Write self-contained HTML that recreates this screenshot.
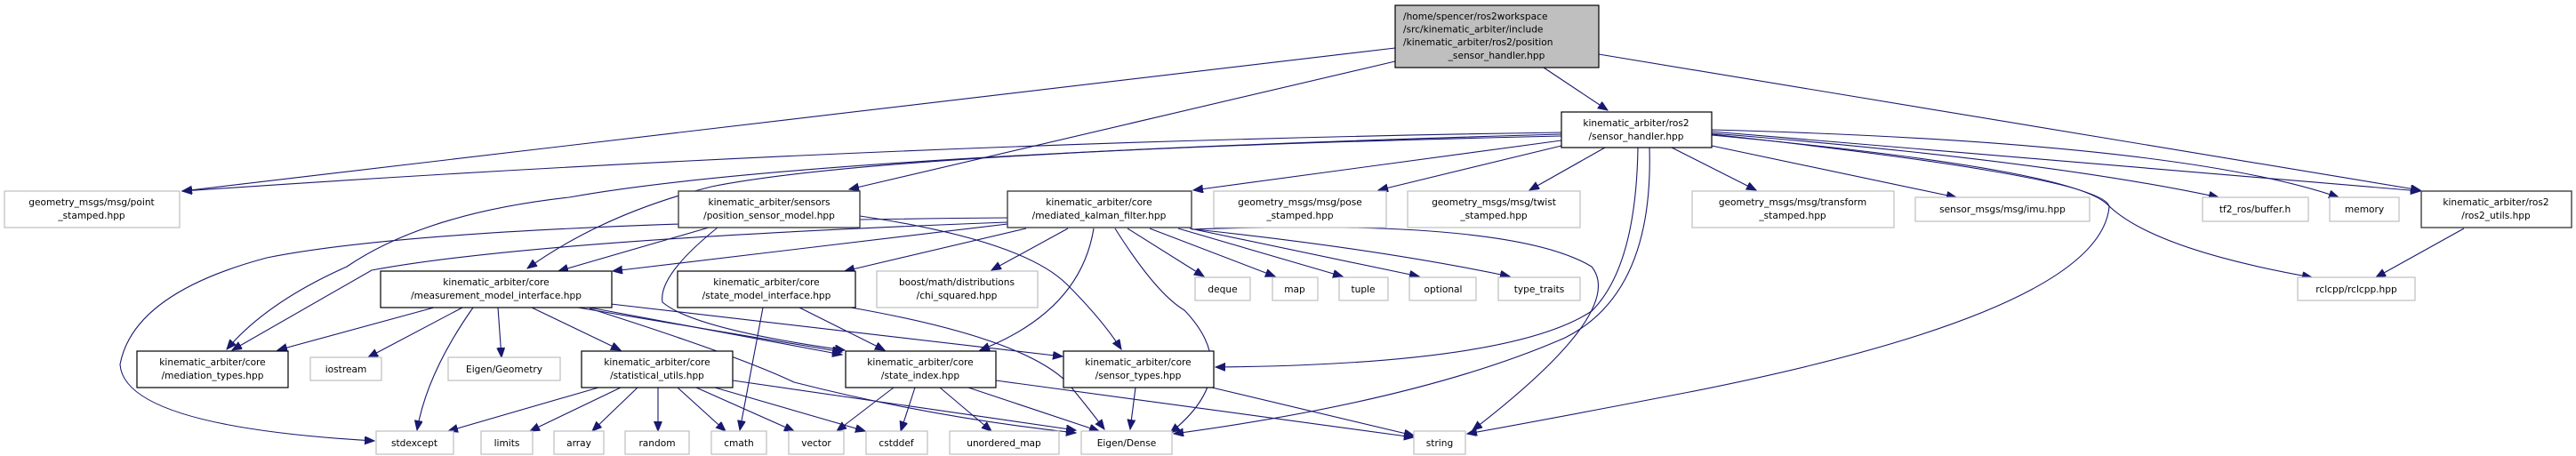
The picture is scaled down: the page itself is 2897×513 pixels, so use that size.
<!DOCTYPE html>
<html><head><meta charset="utf-8"><style>
html,body{margin:0;padding:0;background:#fff;width:2897px;height:513px;overflow:hidden}
svg text{font-family:"DejaVu Sans","Liberation Sans",sans-serif;font-size:10.6px;fill:#000;text-anchor:middle}
.e{fill:none;stroke:#191970;stroke-width:1.1}
.g{fill:#fff;stroke:#bfbfbf;stroke-width:1.2}
.b{fill:#fff;stroke:#000;stroke-width:1.2}
.d{fill:#fff;stroke:#404040;stroke-width:1.4}
</style></head><body>
<svg width="2897" height="513" viewBox="0 0 2897 513" xmlns="http://www.w3.org/2000/svg">
<defs><marker id="a" markerUnits="userSpaceOnUse" markerWidth="12" markerHeight="10" refX="11" refY="4.5" orient="auto"><polygon points="0,0 11,4.5 0,9" fill="#191970" stroke="#191970"/></marker></defs>
<g marker-end="url(#a)">
<!-- root -->
<path class="e" d="M1569,54 L205,215"/>
<path class="e" d="M1569,69 L955,213"/>
<path class="e" d="M1736,76 L1808,124"/>
<path class="e" d="M1798,61 L2722,214"/>
<!-- sensor_handler -->
<path class="e" d="M1756,149 Q1000,160 205,215"/>
<path class="e" d="M1756,151 Q900,175 640,222 Q478,240 390,300 Q300,340 255,393"/>
<path class="e" d="M1756,153 Q1000,170 800,210 Q680,240 593,302"/>
<path class="e" d="M1756,158 L1342,214"/>
<path class="e" d="M1756,164 L1550,214"/>
<path class="e" d="M1805,166 L1720,214"/>
<path class="e" d="M1880,166 L1975,214"/>
<path class="e" d="M1925,164 L2200,222"/>
<path class="e" d="M1925,150 Q2300,180 2495,222"/>
<path class="e" d="M1925,146 Q2450,160 2630,222"/>
<path class="e" d="M1925,148 L2722,215"/>
<path class="e" d="M1925,152 Q2330,190 2370,230 Q2420,280 2600,312"/>
<path class="e" d="M1925,151 Q2372,200 2372,233 Q2360,350 1900,441 Q1750,470 1650,488"/>
<path class="e" d="M1842,166 Q1840,300 1790,350 Q1700,410 1367,413"/>
<path class="e" d="M1855,166 Q1860,330 1760,380 Q1600,450 1320,488"/>
<!-- position_sensor_model -->
<path class="e" d="M797,256 L628,305"/>
<path class="e" d="M807,256 Q740,310 745,340 Q780,370 950,394"/>
<path class="e" d="M967,243 Q1150,270 1200,320 Q1240,360 1261,393"/>
<!-- mediated_kalman_filter -->
<path class="e" d="M1133,245 Q500,250 300,290 Q150,330 135,410 Q140,480 421,496"/>
<path class="e" d="M1133,250 Q600,270 418,304 Q320,360 261,394"/>
<path class="e" d="M1133,252 L689,305"/>
<path class="e" d="M1154,257 L950,305"/>
<path class="e" d="M1201,257 L1115,304"/>
<path class="e" d="M1230,257 Q1215,350 1102,394"/>
<path class="e" d="M1254,257 Q1300,330 1332,349 Q1400,420 1316,487"/>
<path class="e" d="M1268,257 L1354,311"/>
<path class="e" d="M1293,257 L1434,311"/>
<path class="e" d="M1325,257 L1510,311"/>
<path class="e" d="M1338,257 L1596,311"/>
<path class="e" d="M1344,258 Q1550,280 1698,311"/>
<path class="e" d="M1340,258 Q1700,245 1790,300 Q1830,350 1656,484"/>
<!-- measurement_model_interface -->
<path class="e" d="M488,346 L312,394"/>
<path class="e" d="M520,346 L414,402"/>
<path class="e" d="M532,346 Q480,420 469,484"/>
<path class="e" d="M560,346 L564,402"/>
<path class="e" d="M598,346 L698,394"/>
<path class="e" d="M650,346 L947,396"/>
<path class="e" d="M663,346 L947,399"/>
<path class="e" d="M687,342 L1195,401"/>
<path class="e" d="M663,347 Q830,400 893,430 Q1050,470 1210,487"/>
<!-- state_model_interface -->
<path class="e" d="M858,346 L832,484"/>
<path class="e" d="M899,346 L995,394"/>
<path class="e" d="M957,346 Q1150,380 1200,430 Q1225,460 1242,483"/>
<!-- statistical_utils -->
<path class="e" d="M673,436 L504,485"/>
<path class="e" d="M698,436 L596,485"/>
<path class="e" d="M717,436 L666,485"/>
<path class="e" d="M740,436 L740,485"/>
<path class="e" d="M762,436 L816,485"/>
<path class="e" d="M783,436 L893,485"/>
<path class="e" d="M804,436 L973,485"/>
<path class="e" d="M824,428 L1210,484"/>
<!-- state_index -->
<path class="e" d="M1005,436 L941,485"/>
<path class="e" d="M1029,436 L1013,485"/>
<path class="e" d="M1057,436 L1115,485"/>
<path class="e" d="M1089,436 L1236,485"/>
<path class="e" d="M1120,428 L1590,492"/>
<!-- sensor_types -->
<path class="e" d="M1277,436 L1271,483"/>
<path class="e" d="M1363,436 L1590,490"/>
<!-- ros2_utils -->
<path class="e" d="M2771,257 L2672,312"/>
</g>
<!-- nodes -->
<rect x="1569" y="6" width="229" height="70" fill="#bfbfbf" stroke="#000" stroke-width="1.2"/>
<text x="1578" y="22" style="text-anchor:start">/home/spencer/ros2workspace</text>
<text x="1578" y="36.5" style="text-anchor:start">/src/kinematic_arbiter/include</text>
<text x="1578" y="51" style="text-anchor:start">/kinematic_arbiter/ros2/position</text>
<text x="1683" y="66">_sensor_handler.hpp</text>

<rect class="b" x="1756" y="126" width="169" height="40"/>
<text x="1840" y="142">kinematic_arbiter/ros2</text><text x="1840" y="157">/sensor_handler.hpp</text>

<rect class="g" x="5" y="215" width="197" height="41"/>
<text x="103" y="231">geometry_msgs/msg/point</text><text x="103" y="246">_stamped.hpp</text>
<rect class="d" x="763" y="215" width="204" height="41"/>
<text x="865" y="231">kinematic_arbiter/sensors</text><text x="865" y="246">/position_sensor_model.hpp</text>
<rect class="d" x="1133" y="215" width="207" height="41"/>
<text x="1236" y="231">kinematic_arbiter/core</text><text x="1236" y="246">/mediated_kalman_filter.hpp</text>
<rect class="g" x="1365" y="215" width="194" height="41"/>
<text x="1462" y="231">geometry_msgs/msg/pose</text><text x="1462" y="246">_stamped.hpp</text>
<rect class="g" x="1583" y="215" width="194" height="41"/>
<text x="1680" y="231">geometry_msgs/msg/twist</text><text x="1680" y="246">_stamped.hpp</text>
<rect class="g" x="1903" y="215" width="227" height="41"/>
<text x="2016" y="231">geometry_msgs/msg/transform</text><text x="2016" y="246">_stamped.hpp</text>
<rect class="g" x="2154" y="222" width="196" height="27"/><text x="2252" y="239">sensor_msgs/msg/imu.hpp</text>
<rect class="g" x="2477" y="222" width="119" height="27"/><text x="2536" y="239">tf2_ros/buffer.h</text>
<rect class="g" x="2620" y="222" width="78" height="27"/><text x="2659" y="239">memory</text>
<rect class="d" x="2723" y="215" width="169" height="41"/>
<text x="2807" y="231">kinematic_arbiter/ros2</text><text x="2807" y="246">/ros2_utils.hpp</text>

<rect class="b" x="428" y="305" width="260" height="41"/>
<text x="558" y="321">kinematic_arbiter/core</text><text x="558" y="336">/measurement_model_interface.hpp</text>
<rect class="b" x="762" y="305" width="200" height="41"/>
<text x="862" y="321">kinematic_arbiter/core</text><text x="862" y="336">/state_model_interface.hpp</text>
<rect class="g" x="986" y="305" width="181" height="41"/>
<text x="1076" y="321">boost/math/distributions</text><text x="1076" y="336">/chi_squared.hpp</text>
<rect class="g" x="1344" y="312" width="62" height="26"/><text x="1375" y="329">deque</text>
<rect class="g" x="1431" y="312" width="51" height="26"/><text x="1456" y="329">map</text>
<rect class="g" x="1506" y="312" width="55" height="26"/><text x="1533" y="329">tuple</text>
<rect class="g" x="1585" y="312" width="75" height="26"/><text x="1623" y="329">optional</text>
<rect class="g" x="1685" y="312" width="92" height="26"/><text x="1731" y="329">type_traits</text>
<rect class="g" x="2584" y="312" width="132" height="26"/><text x="2650" y="329">rclcpp/rclcpp.hpp</text>

<rect class="b" x="154" y="395" width="170" height="41"/>
<text x="239" y="411">kinematic_arbiter/core</text><text x="239" y="426">/mediation_types.hpp</text>
<rect class="g" x="349" y="402" width="80" height="26"/><text x="389" y="419">iostream</text>
<rect class="g" x="504" y="402" width="126" height="26"/><text x="567" y="419">Eigen/Geometry</text>
<rect class="b" x="654" y="395" width="170" height="41"/>
<text x="739" y="411">kinematic_arbiter/core</text><text x="739" y="426">/statistical_utils.hpp</text>
<rect class="b" x="951" y="395" width="169" height="41"/>
<text x="1035" y="411">kinematic_arbiter/core</text><text x="1035" y="426">/state_index.hpp</text>
<rect class="b" x="1196" y="395" width="169" height="41"/>
<text x="1280" y="411">kinematic_arbiter/core</text><text x="1280" y="426">/sensor_types.hpp</text>

<rect class="g" x="423" y="485" width="87" height="26"/><text x="466" y="502">stdexcept</text>
<rect class="g" x="541" y="485" width="58" height="26"/><text x="570" y="502">limits</text>
<rect class="g" x="623" y="485" width="56" height="26"/><text x="651" y="502">array</text>
<rect class="g" x="703" y="485" width="72" height="26"/><text x="739" y="502">random</text>
<rect class="g" x="800" y="485" width="62" height="26"/><text x="831" y="502">cmath</text>
<rect class="g" x="887" y="485" width="62" height="26"/><text x="918" y="502">vector</text>
<rect class="g" x="974" y="485" width="69" height="26"/><text x="1008" y="502">cstddef</text>
<rect class="g" x="1068" y="485" width="123" height="26"/><text x="1129" y="502">unordered_map</text>
<rect class="g" x="1216" y="485" width="102" height="26"/><text x="1267" y="502">Eigen/Dense</text>
<rect class="g" x="1590" y="485" width="58" height="26"/><text x="1619" y="502">string</text>
</svg>
</body></html>
